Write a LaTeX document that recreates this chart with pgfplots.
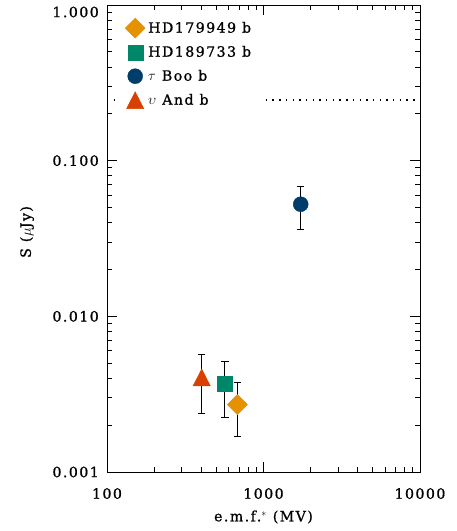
\documentclass[border=0pt]{standalone}
\usepackage{pgfplots}
\pgfplotsset{compat=1.18}
\usepackage{fontspec}
\setmainfont{DejaVu Serif}[LetterSpace=10, FakeBold=0.9]
\definecolor{cOrange}{HTML}{E69100}
\definecolor{cTeal}{HTML}{008769}
\definecolor{cNavy}{HTML}{003D6B}
\definecolor{cRed}{HTML}{D84000}
\newcommand\lbl{\fontsize{14.2}{16}\selectfont}

\begin{document}
\begin{tikzpicture}
\begin{axis}[
  scale only axis, width=313pt, height=467pt,
  xmode=log, ymode=log,
  xmin=100, xmax=10000, ymin=0.001, ymax=1,
  xtick={100,1000,10000}, xticklabels={100,1000,10000},
  ytick={0.001,0.01,0.1}, yticklabels={0.001,0.010,0.100},
  extra y ticks={1}, extra y tick labels={1.000},
  extra y tick style={yticklabel style={yshift=-7pt}},
  minor xtick={200,300,400,500,600,700,800,900,2000,3000,4000,5000,6000,7000,8000,9000},
  minor ytick={0.002,0.003,0.004,0.005,0.006,0.007,0.008,0.009,0.02,0.03,0.04,0.05,0.06,0.07,0.08,0.09,0.2,0.3,0.4,0.5,0.6,0.7,0.8,0.9},
  tick align=inside, major tick length=10pt, minor tick length=5pt,
  every tick/.style={black, line width=0.8pt},
  axis line style={line width=0.9pt},
  /pgf/number format/assume math mode=true,
  ticklabel style={font=\lbl},
  yticklabel style={inner sep=0pt, xshift=-8pt},
  xticklabel style={inner sep=0pt, yshift=-16pt},
  every axis y label/.style={at={(rel axis cs:0,0.514)}, anchor=center, rotate=90, yshift=80pt, font=\lbl},
  every axis x label/.style={at={(rel axis cs:0.5,0)}, anchor=center, yshift=-45pt, font=\lbl},
  xlabel={e.m.f.$^{*}$ (MV)},
  ylabel={S ($\mu$Jy)},
  legend style={draw=none, fill=none, at={(0,1)}, anchor=north west,
    xshift=18pt, yshift=-11pt, inner sep=0pt, row sep=0pt, font=\lbl,
    cells={anchor=west}, nodes={inner sep=0pt, text height=10pt, text depth=1pt}},
  legend image code/.code={\path[draw=none, fill=none] (0pt,-12pt) (23pt,12pt);
    \draw[#1] plot coordinates {(10pt,0pt)};},
  error bars/error bar style={black, line width=0.9pt},
  error bars/error mark options={black, line width=0.9pt, mark size=3.7pt, rotate=90},
]
% dotted level (interrupted behind the legend)
\addplot[forget plot, black, line width=1.4pt, dash pattern=on 1.4pt off 5.3pt] coordinates {(100,0.245) (116,0.245)};
\addplot[forget plot, black, line width=1.4pt, dash pattern=on 1.4pt off 5.3pt] coordinates {(1033,0.245) (10000,0.245)};

\addplot[only marks, mark=square*, mark size=7.07pt, mark options={rotate=45, draw=cOrange, fill=cOrange},
  error bars/.cd, y dir=both, y explicit]
  coordinates {(681,0.00271) +- (0,0.00103)};
\addlegendentry{HD179949 b}
\addplot[only marks, mark=square*, mark size=7.5pt, mark options={draw=cTeal, fill=cTeal},
  error bars/.cd, y dir=both, y explicit]
  coordinates {(567,0.0037) +- (0,0.00145)};
\addlegendentry{HD189733 b}
\addplot[only marks, mark=*, mark size=7.5pt, mark options={draw=cNavy, fill=cNavy},
  error bars/.cd, y dir=both, y explicit]
  coordinates {(1729,0.0525) +- (0,0.0163)};
\addlegendentry{$\tau$ Boo b}
\addplot[only marks, mark=triangle*, mark size=10pt, mark options={yscale=1.13, yshift=-2.5pt, draw=cRed, fill=cRed},
  error bars/.cd, y dir=both, y explicit]
  coordinates {(403,0.00405) +- (0,0.00168)};
\addlegendentry{$\upsilon$ And b}
\end{axis}
\pgfresetboundingbox
\path ([shift={(-107pt,-59pt)}]current axis.south west) rectangle ([shift={(36pt,5pt)}]current axis.north east);
\end{tikzpicture}
\end{document}
